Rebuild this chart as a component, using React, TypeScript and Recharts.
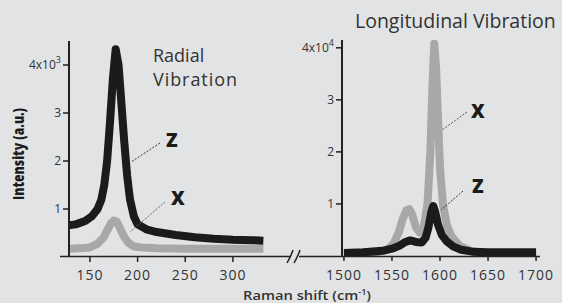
import { Line, LineChart, XAxis, YAxis } from "recharts";

const radialShiftZ = [128, 135, 145, 152, 158, 162, 165, 168, 171, 174, 177, 180, 183, 186, 189, 192, 196, 200, 210, 220, 240, 260, 280, 300, 320, 332];
const radialZ = [0.66, 0.68, 0.75, 0.85, 1.0, 1.2, 1.5, 2.0, 2.8, 3.7, 4.33, 4.0, 3.2, 2.4, 1.7, 1.2, 0.85, 0.68, 0.57, 0.52, 0.46, 0.41, 0.38, 0.36, 0.35, 0.34];

const radialShiftX = [128, 140, 150, 158, 164, 168, 172, 175, 178, 181, 185, 190, 196, 205, 220, 250, 280, 310, 332];
const radialX = [0.17, 0.18, 0.2, 0.28, 0.4, 0.55, 0.7, 0.76, 0.74, 0.62, 0.45, 0.3, 0.22, 0.2, 0.18, 0.17, 0.17, 0.17, 0.17];

const longShiftZ = [1500, 1520, 1540, 1550, 1558, 1564, 1569, 1575, 1581, 1585, 1588, 1591, 1593, 1595, 1598, 1602, 1607, 1614, 1622, 1635, 1650, 1670, 1700];
const longZ = [0.06, 0.07, 0.1, 0.14, 0.2, 0.27, 0.3, 0.27, 0.26, 0.35, 0.55, 0.85, 0.96, 0.85, 0.6, 0.4, 0.28, 0.18, 0.12, 0.08, 0.07, 0.07, 0.07];

const longShiftX = [1500, 1530, 1545, 1552, 1557, 1561, 1565, 1568, 1571, 1575, 1579, 1583, 1587, 1590, 1592, 1594, 1596, 1598, 1600, 1603, 1607, 1612, 1620, 1632, 1645, 1670, 1700];
const longX = [0.02, 0.05, 0.12, 0.25, 0.45, 0.7, 0.88, 0.9, 0.8, 0.55, 0.45, 0.55, 1.0, 2.0, 3.2, 4.08, 3.6, 2.6, 1.7, 1.0, 0.6, 0.38, 0.2, 0.1, 0.05, 0.03, 0.02];

const radialTicks = [150, 200, 250, 300];
const longTicks = [1500, 1550, 1600, 1650, 1700];
const yTicks = [1, 2, 3, 4];

const toRows = (xs: number[], ys: number[]) => xs.map((x, i) => ({ x, y: ys[i] }));

const W = 562;
const H = 303;
const FONT = "'Open Sans', sans-serif";
const INK = "#222";
const BLACK = "#1b1b1b";
const GRAY = "#a8a8a8";
const AXIS_W = 40;
const AXIS_H = 30;

function YTick(props: any) {
  const { x, y, payload, exp } = props;
  const v = payload.value;
  return (
    <text x={x} y={y} dy={4} textAnchor="end" fontSize={12} fill="#333" fontFamily={FONT}>
      {v === 4 ? (
        <>
          4x10<tspan dy={-6} fontSize={9}>{exp}</tspan>
        </>
      ) : (
        v
      )}
    </text>
  );
}

// x labels sit with their baseline near y=280
function XTick(props: any) {
  const { x, payload } = props;
  return (
    <text x={x} y={280} textAnchor="middle" fontSize={14} fill="#333" fontFamily={FONT} letterSpacing={1}>
      {payload.value}
    </text>
  );
}

function Panel({ left, right, top, bottom, domain, yMax, ticks, exp, z, xSeries }: any) {
  return (
    <div style={{ position: "absolute", left: 0, top: 0 }}>
      <LineChart
        width={W}
        height={H}
        margin={{ top, left: left - AXIS_W, right, bottom: bottom - AXIS_H }}
      >
        <XAxis
          type="number"
          dataKey="x"
          domain={domain}
          ticks={ticks}
          height={AXIS_H}
          axisLine={false}
          tickLine={{ stroke: INK, strokeWidth: 1.5 }}
          tickSize={5}
          tick={<XTick />}
          allowDataOverflow
        />
        <YAxis
          type="number"
          domain={[0, yMax]}
          ticks={yTicks}
          width={AXIS_W}
          axisLine={{ stroke: INK, strokeWidth: 2 }}
          tickLine={{ stroke: INK, strokeWidth: 1.5 }}
          tickSize={6}
          tickMargin={2}
          tick={<YTick exp={exp} />}
          allowDataOverflow
        />
        <Line
          data={xSeries}
          dataKey="y"
          type="linear"
          stroke={GRAY}
          strokeWidth={8}
          strokeLinejoin="round"
          dot={false}
          isAnimationActive={false}
        />
        <Line
          data={z}
          dataKey="y"
          type="linear"
          stroke={BLACK}
          strokeWidth={8}
          strokeLinejoin="round"
          dot={false}
          isAnimationActive={false}
        />
      </LineChart>
    </div>
  );
}

export default function App() {
  return (
    <div style={{ position: "absolute", left: 0, top: 0, width: W, height: H, background: "#e2e3e5", overflow: "hidden" }}>
      <Panel
        left={69}
        right={291}
        top={41}
        bottom={46}
        domain={[128, 340]}
        yMax={4.5}
        ticks={radialTicks}
        exp="3"
        z={toRows(radialShiftZ, radialZ)}
        xSeries={toRows(radialShiftX, radialX)}
      />
      <Panel
        left={342}
        right={24}
        top={40}
        bottom={47}
        domain={[1498, 1702]}
        yMax={4.15}
        ticks={longTicks}
        exp="4"
        z={toRows(longShiftZ, longZ)}
        xSeries={toRows(longShiftX, longX)}
      />
      <svg width={W} height={H} style={{ position: "absolute", left: 0, top: 0, pointerEvents: "none" }} fontFamily={FONT}>
        {/* shared baseline with axis break */}
        <line x1={60} y1={256.5} x2={291} y2={256.5} stroke={INK} strokeWidth={1.5} />
        <line x1={299} y1={256.5} x2={540} y2={256.5} stroke={INK} strokeWidth={1.5} />
        <path d="M287 263 Q291 256 293 250 M294 263 Q298 256 300 250" stroke={INK} strokeWidth={1.5} fill="none" />

        <text x={153} y={62} fontSize={18} fill="#333">Radial</text>
        <text x={153} y={86} fontSize={18} fill="#333" textLength={84} lengthAdjust="spacing">Vibration</text>
        <text x={355} y={28} fontSize={19.5} fill="#333">Longitudinal Vibration</text>

        <line x1={160} y1={143} x2={131} y2={162} stroke="#333" strokeWidth={1} strokeDasharray="2 1.5" />
        <text x={166} y={147} fontSize={19} fontWeight={800} fill={BLACK}>Z</text>
        <line x1={165} y1={202} x2={130} y2={232} stroke="#666" strokeWidth={1} strokeDasharray="2 1.5" />
        <text x={171} y={205} fontSize={19} fontWeight={800} fill={BLACK}>X</text>

        <line x1={467} y1={112} x2={442} y2={130} stroke="#555" strokeWidth={1} strokeDasharray="2 1.5" />
        <text x={471} y={118} fontSize={19} fontWeight={800} fill={BLACK}>X</text>
        <line x1={463} y1={191} x2={441} y2={210} stroke="#333" strokeWidth={1} strokeDasharray="2 1.5" />
        <text x={472} y={193} fontSize={19} fontWeight={800} fill={BLACK}>Z</text>

        <text
          transform="translate(24 154) rotate(-90)"
          textAnchor="middle"
          fontSize={15}
          fontWeight={800}
          fill={BLACK}
          textLength={92}
          lengthAdjust="spacingAndGlyphs"
        >
          Intensity (a.u.)
        </text>
        <text x={243} y={300} fontSize={13} fontWeight={600} fill="#333" textLength={128} lengthAdjust="spacingAndGlyphs">
          Raman shift (cm<tspan dy={-5} fontSize={8}>-1</tspan><tspan dy={5}>)</tspan>
        </text>
      </svg>
    </div>
  );
}
